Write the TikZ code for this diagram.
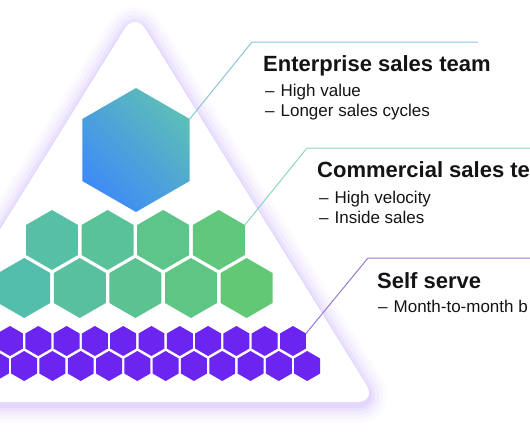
\documentclass[tikz,border=0pt]{standalone}
\usepackage{fontspec}
\setmainfont{Liberation Sans}
\usetikzlibrary{shapes.geometric,positioning}
\definecolor{hexblue}{RGB}{62,139,246}
\definecolor{hexteal}{RGB}{92,190,184}
\definecolor{greenL}{RGB}{84,190,172}
\definecolor{greenR}{RGB}{98,200,118}
\definecolor{hexpurple}{RGB}{108,36,240}
\definecolor{glow}{RGB}{196,170,250}
\definecolor{lineE}{RGB}{140,196,214}
\definecolor{lineC}{RGB}{140,214,192}
\definecolor{lineS}{RGB}{150,120,215}
\definecolor{ink}{RGB}{20,20,20}
\begin{document}
\begin{tikzpicture}[x=1pt,y=-1pt]
\tikzset{hex/.style={regular polygon,regular polygon sides=6,shape border rotate=30,
    inner sep=0pt,outer sep=0pt,draw=none},
  bighex/.style={hex,minimum size=124pt,bottom color=hexblue,top color=hexteal,shading angle=-45},
  greenhex/.style={hex,minimum size=60pt},
  purplehex/.style={hex,minimum size=30pt,fill=hexpurple},
  heading/.style={anchor=base west,inner sep=0pt,text=ink,font=\bfseries\fontsize{22}{26}\selectfont},
  bullet/.style={anchor=base west,inner sep=0pt,text=ink,font=\fontsize{17}{20}\selectfont},
  callout/.style={line width=1pt}}
\useasboundingbox (0,0) rectangle (530,442);
\clip (0,0) rectangle (530,442);
\foreach \w/\o in {36/0.06,28/0.08,20/0.11,12/0.15,6/0.2}
    \draw[glow,line width=\w pt,opacity=\o,rounded corners=20pt,line join=round]
        (135,15) -- (377,405) -- (-107,405) -- cycle;
\fill[white,rounded corners=20pt] (135,12) -- (377,402) -- (-107,402) -- cycle;
\node[bighex] (ent) at (136,150) {};
\foreach \i in {1,...,4}{
    \pgfmathsetmacro\gx{52+55.6*(\i-1)}
    \pgfmathsetmacro\gm{(\gx-24)/2.23}
    \node[greenhex,fill=greenR!\gm!greenL] (g-1-\i) at (\gx,240) {};
}
\foreach \i in {1,...,5}{
    \pgfmathsetmacro\gx{24.2+55.6*(\i-1)}
    \pgfmathsetmacro\gm{(\gx-24)/2.23}
    \node[greenhex,fill=greenR!\gm!greenL] (g-2-\i) at (\gx,288) {};
}
\foreach \i in {1,...,11}
    \node[purplehex] (p-1-\i) at ({10+28.3*(\i-1)},341) {};
\foreach \i in {1,...,12}
    \node[purplehex] (p-2-\i) at ({-4.15+28.3*(\i-1)},366) {};
\coordinate (entK) at (252,42);
\coordinate (entE) at (478,42);
\coordinate (comK) at (307,148);
\coordinate (comE) at (530,148);
\coordinate (selfK) at (368,258);
\coordinate (selfE) at (530,258);
\draw[callout,lineE] (ent.30) -- (entK) -- (entE);
\draw[callout,lineC] (g-1-4.30) -- (comK) -- (comE);
\draw[callout,lineS] (p-1-11.30) -- (selfK) -- (selfE);
\node[heading] (entT) at (263,71) {Enterprise sales team};
\node[bullet] (entA) at (265,96) {–\hspace{6pt}High value};
\node[bullet] (entB) at (265,116) {–\hspace{6pt}Longer sales cycles};
\node[heading] (comT) at (317,177) {Commercial sales te};
\node[bullet] (comA) at (319,203) {–\hspace{6pt}High velocity};
\node[bullet] (comB) at (319,223) {–\hspace{6pt}Inside sales};
\node[heading] (selfT) at (377,288) {Self serve};
\node[bullet] (selfA) at (378,312) {–\hspace{6pt}Month-to-month b};
\end{tikzpicture}
\end{document}
